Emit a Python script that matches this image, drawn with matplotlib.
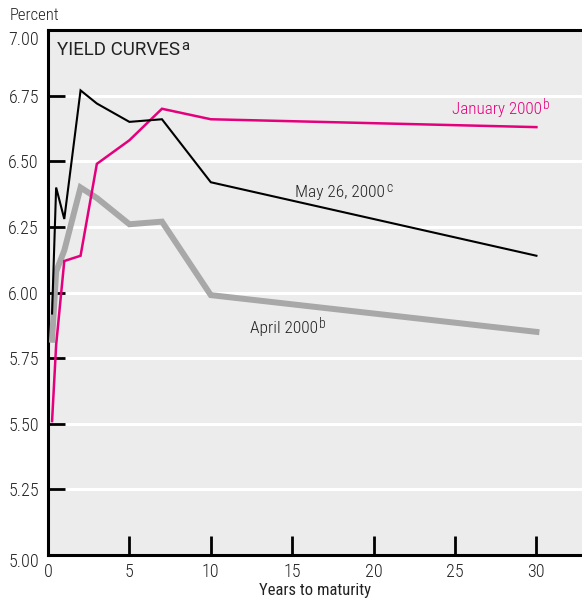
import matplotlib
matplotlib.use("Agg")
import matplotlib.pyplot as plt
from matplotlib import font_manager
from matplotlib.transforms import ScaledTranslation

# narrow sans, close to the condensed face of the original
names = set(f.name for f in font_manager.fontManager.ttflist)
fam = "DejaVu Sans"
for cand in ["Roboto Condensed", "PT Sans Narrow", "Archivo Narrow", "Liberation Sans Narrow"]:
    if cand in names:
        fam = cand
        break
title_fam = "Roboto" if "Roboto" in names else fam
plt.rcParams['font.family'] = [fam, 'DejaVu Sans']
plt.rcParams['font.weight'] = 'light'

# Data ##########################################################################
maturity = [0.25, 0.5, 1, 2, 3, 5, 7, 10, 30]   # years
jan_2000 = [5.51, 5.80, 6.12, 6.14, 6.49, 6.58, 6.70, 6.66, 6.63]
apr_2000 = [5.82, 6.08, 6.16, 6.40, 6.36, 6.26, 6.27, 5.99, 5.85]
may_26_2000 = [5.92, 6.40, 6.28, 6.77, 6.72, 6.65, 6.66, 6.42, 6.14]

yticks = [5.00, 5.25, 5.50, 5.75, 6.00, 6.25, 6.50, 6.75, 7.00]
xticks = [0, 5, 10, 15, 20, 25, 30]

pink = '#e4007c'
grey = '#a8a8a8'
bg = '#ececec'
txt = '#222222'

fig = plt.figure(figsize=(5.82, 6.01), dpi=100)
ax = fig.add_axes([48/582, 1-555/601, 1-48/582, (555-30)/601])
ax.set_facecolor(bg)

ax.plot(maturity, apr_2000, color=grey, lw=4.3, solid_joinstyle='miter', zorder=3)
ax.plot(maturity, jan_2000, color=pink, lw=1.8, solid_joinstyle='miter', zorder=4)
ax.plot(maturity, may_26_2000, color='black', lw=1.5, solid_joinstyle='miter', zorder=5)

ax.set_xlim(0, 32.8)
ax.set_ylim(5.0, 7.0)
ax.set_yticks(yticks)
ax.set_yticklabels([f"{t:.2f}" for t in yticks])
ax.set_xticks(xticks)
ax.set_xticklabels([str(t) for t in xticks])

# white grid lines
for t in yticks[1:-1]:
    ax.axhline(t, color='white', lw=2.2, zorder=1)

ax.tick_params(axis='y', direction='in', length=12, width=2, pad=6.5, labelsize=13, colors='black', labelcolor=txt)
ax.tick_params(axis='x', direction='in', length=13.5, width=2, pad=6, labelsize=13, colors='black', labelcolor=txt)

# end labels sit a little below their ticks in the original
ytk = ax.yaxis.get_major_ticks()
for i, dy in [(0, -5), (len(ytk) - 1, -8)]:
    lab = ytk[i].label1
    lab.set_transform(lab.get_transform() + ScaledTranslation(0, dy / 100, fig.dpi_scale_trans))

for s in ['left', 'bottom', 'top']:
    ax.spines[s].set_linewidth(2.2)
ax.spines['right'].set_visible(False)

ax.set_xlabel("Years to maturity", fontsize=12, color=txt, labelpad=1.5)
fig.text(10/582, 1-16/601, "Percent", fontsize=12, color=txt, va='center', ha='left')


def label(x, y, s, sup, size, color, weight='light', family=None):
    # main text plus a separate raised footnote letter
    kw = {} if family is None else {'family': [family, 'DejaVu Sans']}
    t = ax.text(x, y, s, fontsize=size, color=color, va='baseline', ha='left', fontweight=weight, **kw)
    ax.annotate(sup, xy=(1, 0), xycoords=t, xytext=(1.0, size * 0.45),
                textcoords='offset points', fontsize=size * 0.8, color=color,
                va='baseline', ha='left', fontweight=weight, **kw)
    return t


label(0.55, 6.905, "YIELD CURVES", "a", 13.5, txt, weight='normal', family=title_fam)
label(24.8, 6.68, "January 2000", "b", 12.3, pink)
label(15.2, 6.365, "May 26, 2000", "c", 12.5, txt)
label(12.4, 5.845, "April 2000", "b", 12.5, txt)

fig.savefig("out.png", dpi=100)
